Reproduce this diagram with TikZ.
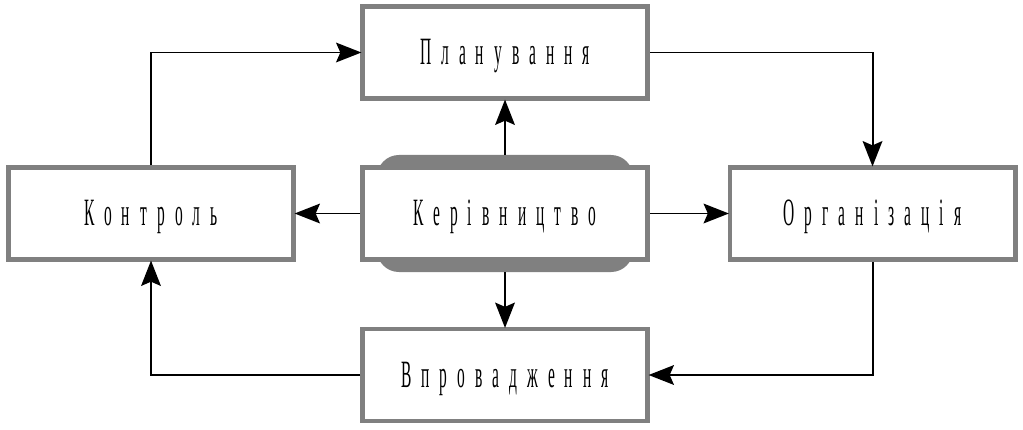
\documentclass[tikz,border=0pt]{standalone}
\usepackage{fontspec}
\setmainfont{Liberation Serif}
\newfontfamily\etapefont[FakeStretch=0.4,LetterSpace=26]{Liberation Serif}
\usetikzlibrary{arrows.meta}
\begin{document}
\begin{tikzpicture}[x=0.025cm,y=-0.025cm]
%styles des noeuds
\tikzstyle{etape}=[rectangle, draw=gray, line width=3.5pt, fill=white, minimum width=7.125cm, minimum height=2.3cm, text height=0.6cm, text depth=0pt, font=\etapefont\fontsize{27.5pt}{32pt}\selectfont]
\tikzstyle{fond}=[rectangle, fill=gray, rounded corners=0.55cm, minimum width=6.4cm, minimum height=2.925cm]
\useasboundingbox (0,0) rectangle (1023,429);
%nodes
\node[fond] (fond) at (505,213.5) {};
\node[etape] (kerv) at (505,213.5) {Керівництво};
\node[etape] (plan) at (505,52.5) {Планування};
\node[etape] (ctrl) at (151,213.5) {Контроль};
\node[etape] (org) at (872.5,213.5) {Організація};
\node[etape] (impl) at (505,375) {Впровадження};

%vecteur
\tikzstyle{vector}=[-{Stealth[length=18pt,width=14pt,inset=3pt]}, line width=1.4pt, shorten >=-1pt]
\draw[vector] (fond.north) -- (plan.south);
\draw[vector] (fond.south) -- (impl.north);
\draw[vector] (kerv.west) -- (ctrl.east);
\draw[vector] (kerv.east) -- (org.west);
\draw[vector] (ctrl.north) |- (plan.west);
\draw[vector] (plan.east) -| (org.north);
\draw[vector] (org.south) |- (impl.east);
\draw[vector] (impl.west) -| (ctrl.south);
\end{tikzpicture}
\end{document}
